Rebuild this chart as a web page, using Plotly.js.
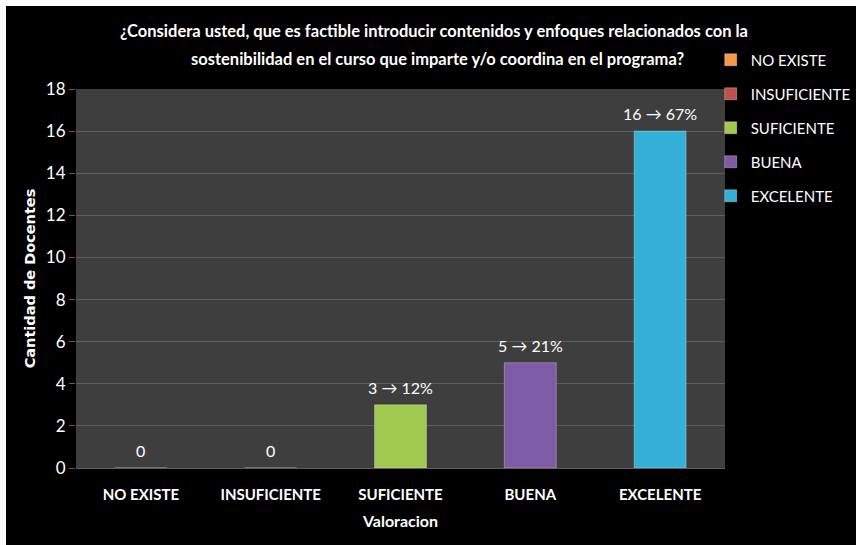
<!DOCTYPE html>
<html>
<head>
<meta charset="utf-8">
<script src="https://cdn.plot.ly/plotly-3.0.1.min.js"></script>
<style>
  html, body { margin: 0; padding: 0; background: #ffffff; }
  #chart { position: absolute; left: 6px; top: 6px; width: 850px; height: 539px; }
</style>
</head>
<body>
<div id="chart"></div>
<script>
const categories = ['NO EXISTE', 'INSUFICIENTE', 'SUFICIENTE', 'BUENA', 'EXCELENTE'];
const values = [0, 0, 3, 5, 16];
const valueLabels = ['0', '0', '3 → 12%', '5 → 21%', '16 → 67%'];
const colors = ['#F79646', '#C0504D', '#A2C94F', '#7E5BA6', '#34B0D6'];
const yTicks = [0, 2, 4, 6, 8, 10, 12, 14, 16, 18];
const titleLines = [
  '¿Considera usted, que es factible introducir contenidos y enfoques relacionados con la',
  'sostenibilidad en el curso que imparte y/o coordina en el programa?'
];

const FONT = 'Lato, "Open Sans", sans-serif';

const traces = categories.map((c, i) => ({
  type: 'bar',
  name: c,
  x: [c],
  y: [values[i]],
  marker: { color: colors[i], line: { color: 'rgba(255,255,255,0.3)', width: 1 } },
  width: 0.4,
  legendgroup: 'g' + i
}));

const labelAnnotations = categories.map((c, i) => ({
  text: valueLabels[i], xref: 'x', yref: 'y', x: c, y: values[i],
  xanchor: 'center', yanchor: 'bottom', yshift: 6, showarrow: false,
  font: { size: 16, color: '#ffffff', family: FONT }
}));

const layout = {
  width: 850,
  height: 539,
  paper_bgcolor: '#000000',
  plot_bgcolor: '#3e3e3e',
  margin: { l: 70, r: 131, t: 83, b: 77, autoexpand: false },
  barmode: 'overlay',
  font: { family: FONT, color: '#ffffff', size: 16 },
  annotations: [
    { text: '<b>' + titleLines[0] + '</b>', xref: 'paper', yref: 'paper', x: 0.552, y: 1.153,
      xanchor: 'center', yanchor: 'middle', showarrow: false,
      font: { size: 16.5, color: '#ffffff', family: FONT } },
    { text: '<b>' + titleLines[1] + '</b>', xref: 'paper', yref: 'paper', x: 0.557, y: 1.079,
      xanchor: 'center', yanchor: 'middle', showarrow: false,
      font: { size: 16.5, color: '#ffffff', family: FONT } }
  ].concat(labelAnnotations),
  xaxis: {
    categoryorder: 'array',
    categoryarray: categories,
    tickfont: { size: 15, color: '#ffffff', family: FONT, weight: 'bold' },
    ticks: '',
    ticklabelstandoff: 16,
    showgrid: false,
    showline: false,
    title: { text: '<b>Valoracion</b>', font: { size: 16, color: '#ffffff', family: FONT }, standoff: 13 }
  },
  yaxis: {
    range: [0, 18],
    tickvals: yTicks,
    ticktext: yTicks.map(String),
    tickfont: { size: 17, color: '#ffffff', family: FONT },
    ticks: 'outside',
    ticklen: 6,
    tickcolor: '#5e5e5e',
    gridcolor: '#5e5e5e',
    gridwidth: 1,
    zeroline: true,
    zerolinecolor: '#5e5e5e',
    title: { text: '<b>Cantidad de Docentes</b>', font: { size: 14.5, color: '#ffffff', family: '"DejaVu Sans", sans-serif' }, standoff: 6 }
  },
  legend: {
    x: 0.978, xanchor: 'left',
    y: 1.12, yanchor: 'top',
    font: { size: 15, color: '#ffffff', family: FONT },
    tracegroupgap: 11.5,
    itemwidth: 30,
    bgcolor: 'rgba(0,0,0,0)'
  },
  showlegend: true
};

Plotly.newPlot('chart', traces, layout, { displayModeBar: false, staticPlot: true });
</script>
</body>
</html>
